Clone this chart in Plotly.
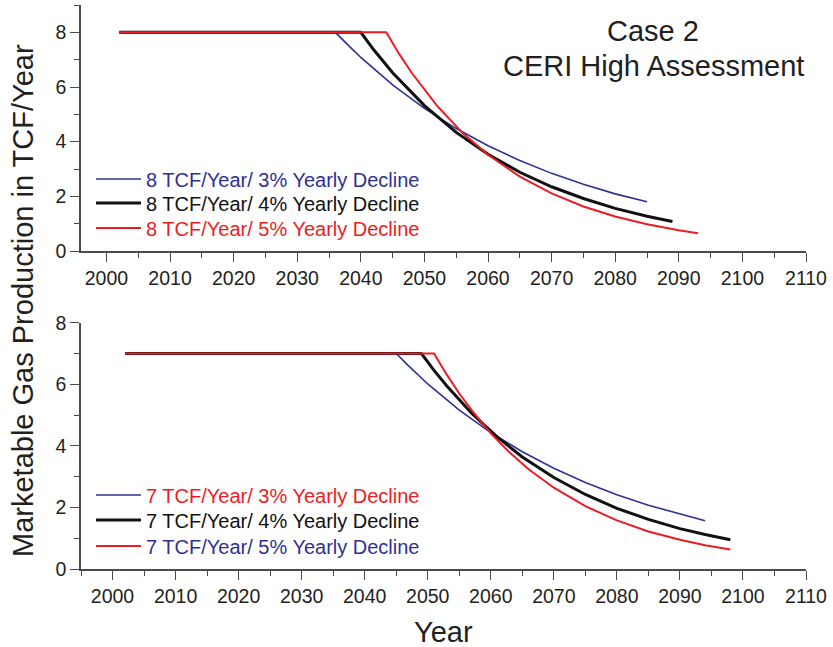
import plotly.graph_objects as go
from plotly.subplots import make_subplots

# ---- data ----
top_3_years = [2002, 2036, 2038, 2040, 2045, 2050, 2055, 2060, 2065, 2070, 2075, 2080, 2085]
top_3_vals = [8, 8, 7.53, 7.08, 6.08, 5.22, 4.48, 3.85, 3.31, 2.84, 2.44, 2.09, 1.80]
top_4_years = [2002, 2040, 2042, 2045, 2050, 2055, 2060, 2065, 2070, 2075, 2080, 2085, 2089]
top_4_vals = [8, 8, 7.37, 6.52, 5.32, 4.34, 3.54, 2.88, 2.35, 1.92, 1.56, 1.27, 1.08]
top_5_years = [2002, 2044, 2046, 2048, 2052, 2056, 2060, 2065, 2070, 2075, 2080, 2085, 2090, 2093]
top_5_vals = [8, 8, 7.22, 6.52, 5.31, 4.32, 3.52, 2.72, 2.11, 1.63, 1.26, 0.98, 0.76, 0.65]

bot_3_years = [2002, 2045, 2047, 2050, 2055, 2060, 2065, 2070, 2075, 2080, 2085, 2090, 2094]
bot_3_vals = [7, 7, 6.59, 6.01, 5.16, 4.43, 3.81, 3.27, 2.81, 2.41, 2.07, 1.78, 1.57]
bot_4_years = [2002, 2049, 2051, 2053, 2057, 2061, 2065, 2070, 2075, 2080, 2085, 2090, 2094, 2098]
bot_4_vals = [7, 7, 6.45, 5.95, 5.05, 4.29, 3.64, 2.97, 2.42, 1.97, 1.61, 1.31, 1.12, 0.95]
bot_5_years = [2002, 2051, 2053, 2055, 2057, 2060, 2063, 2066, 2070, 2075, 2080, 2085, 2090, 2094, 2098]
bot_5_vals = [7, 7, 6.32, 5.70, 5.15, 4.41, 3.78, 3.24, 2.64, 2.04, 1.58, 1.22, 0.95, 0.77, 0.63]

top_labels = ["8 TCF/Year/ 3% Yearly Decline", "8 TCF/Year/ 4% Yearly Decline", "8 TCF/Year/ 5% Yearly Decline"]
bot_labels = ["7 TCF/Year/ 3% Yearly Decline", "7 TCF/Year/ 4% Yearly Decline", "7 TCF/Year/ 5% Yearly Decline"]

x_ticks = list(range(2000, 2111, 10))
y_ticks = [0, 2, 4, 6, 8]

BLUE = "#2E3192"
BLACK = "#111111"
RED = "#ED1C24"
TXT = "#231F20"
AX = "#4a4a4a"
FONT = "Liberation Sans, Arial, sans-serif"

W, H = 833, 647
ML, MR, MT, MB = 81, 27, 5, 78
PW, PH = W - ML - MR, H - MT - MB


def px(xp):
    return (xp - ML) / PW


def py(yp):
    return (H - MB - yp) / PH


fig = make_subplots(rows=2, cols=1, vertical_spacing=0.127)

line_w = [1.6, 3.0, 2.0]
colors = [BLUE, BLACK, RED]
top_data = [(top_3_years, top_3_vals), (top_4_years, top_4_vals), (top_5_years, top_5_vals)]
bot_data = [(bot_3_years, bot_3_vals), (bot_4_years, bot_4_vals), (bot_5_years, bot_5_vals)]
top_text_colors = [BLUE, BLACK, RED]
bot_text_colors = [RED, BLACK, BLUE]
top_rows = [179, 203, 228]
bot_rows = [495, 520, 546]

legends = {}
k = 1
for (xs, ys), c, w, lab, tc, ry in zip(top_data, colors, line_w, top_labels, top_text_colors, top_rows):
    lname = "legend" if k == 1 else f"legend{k}"
    fig.add_trace(go.Scatter(x=xs, y=ys, mode="lines", line=dict(color=c, width=w),
                             name=f'<span style="color:{tc}">{lab}</span>', legend=lname),
                  row=1, col=1)
    legends[lname] = ry
    k += 1
for (xs, ys), c, w, lab, tc, ry in zip(bot_data, colors, line_w, bot_labels, bot_text_colors, bot_rows):
    lname = f"legend{k}"
    fig.add_trace(go.Scatter(x=xs, y=ys, mode="lines", line=dict(color=c, width=w),
                             name=f'<span style="color:{tc}">{lab}</span>', legend=lname),
                  row=2, col=1)
    legends[lname] = ry
    k += 1

common_x = dict(tickmode="array", tickvals=x_ticks, ticks="outside", ticklen=9, tickwidth=1.2,
                tickcolor=AX, showline=True, linecolor=AX, linewidth=1.5, showgrid=False,
                zeroline=False, tickfont=dict(size=19.5, color=TXT, family=FONT),
                minor=dict(dtick=5, tick0=2000, ticks="outside", ticklen=5, tickcolor=AX, tickwidth=1.2))
common_y = dict(tickmode="array", tickvals=y_ticks, ticks="outside", ticklen=9, tickwidth=1.2,
                tickcolor=AX, showline=True, linecolor=AX, linewidth=1.5, showgrid=False,
                zeroline=False, tickfont=dict(size=19.5, color=TXT, family=FONT),
                minor=dict(dtick=1, tick0=0, ticks="outside", ticklen=5, tickcolor=AX, tickwidth=1.2))

fig.update_xaxes(range=[1996, 2110], **common_x, row=1, col=1)
fig.update_xaxes(range=[1995, 2110], **common_x, row=2, col=1)
fig.update_yaxes(range=[0, 9], **common_y, row=1, col=1)
fig.update_yaxes(range=[0, 8], **common_y, row=2, col=1)

layout_legends = {}
for lname, ry in legends.items():
    layout_legends[lname] = dict(x=px(91), y=py(ry), xanchor="left", yanchor="middle",
                                 bgcolor="rgba(0,0,0,0)", font=dict(size=20, family=FONT),
                                 itemwidth=45, borderwidth=0)

fig.update_layout(
    width=W, height=H,
    margin=dict(l=ML, r=MR, t=MT, b=MB, autoexpand=False),
    paper_bgcolor="white", plot_bgcolor="white",
    font=dict(family=FONT, color=TXT),
    xaxis=dict(domain=[0, 1]), xaxis2=dict(domain=[0, 1]),
    yaxis=dict(domain=[py(251), 1.0]), yaxis2=dict(domain=[0.0, py(322.7)]),
    showlegend=True,
    **layout_legends,
)

fig.add_annotation(text="Case 2", xref="paper", yref="paper", x=px(653), y=py(31),
                   showarrow=False, font=dict(size=29, color=TXT, family=FONT), xanchor="center", yanchor="middle")
fig.add_annotation(text="CERI High Assessment", xref="paper", yref="paper", x=px(653), y=py(66),
                   showarrow=False, font=dict(size=29, color=TXT, family=FONT), xanchor="center", yanchor="middle")
fig.add_annotation(text="Marketable Gas Production in TCF/Year", xref="paper", yref="paper",
                   x=px(23), y=py(301), textangle=-90, showarrow=False,
                   font=dict(size=29, color=TXT, family=FONT), xanchor="center", yanchor="middle")
fig.add_annotation(text="Year", xref="paper", yref="paper", x=px(443), y=py(632),
                   showarrow=False, font=dict(size=29, color=TXT, family=FONT), xanchor="center", yanchor="middle")

fig.write_html("out.html", config={"displayModeBar": False},
               post_script="document.body.style.margin='0';document.body.style.padding='0';")
